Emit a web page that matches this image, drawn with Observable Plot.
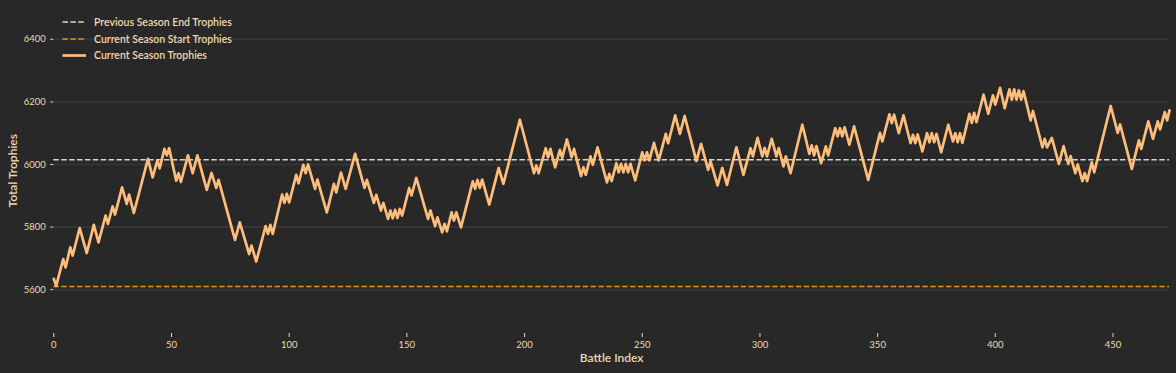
<!DOCTYPE html>
<html>
<head>
<meta charset="utf-8">
<script src="https://cdn.jsdelivr.net/npm/d3@7"></script>
<script src="https://cdn.jsdelivr.net/npm/@observablehq/plot@0.6"></script>
<style>
  html, body { margin: 0; padding: 0; background: #282828; }
  #wrap { position: relative; width: 1176px; height: 373px; overflow: hidden; }
  #legend { position: absolute; left: 0; top: 0; }
</style>
</head>
<body>
<div id="wrap"><div id="chart"></div><svg id="legend" width="300" height="70"></svg></div>
<script>
// Turning points of the trophy path (battle index, trophies)
const battleIdx = [0,1,4,5,7,8,11,14,17,19,22,23,25,26,29,31,32,34,40,42,44,45,47,48,49,52,53,54,57,59,61,65,67,69,70,77,79,83,84,86,90,91,92,93,97,98,99,100,103,104,106,107,108,111,112,116,119,120,122,124,128,132,133,136,137,139,140,142,143,144,145,146,147,148,151,152,154,159,160,162,163,165,166,167,169,170,171,173,178,179,180,181,182,185,189,191,198,204,205,206,209,210,211,213,215,216,218,220,221,224,225,226,228,229,231,235,236,237,239,240,241,242,243,244,245,247,250,251,252,253,255,257,260,261,264,266,268,273,275,278,279,282,284,286,290,293,296,297,299,301,302,303,305,307,308,310,311,313,318,321,322,323,324,326,328,329,332,333,334,335,336,338,340,346,351,352,355,356,357,359,361,364,365,366,367,369,371,372,373,374,375,377,380,382,383,384,385,386,389,390,391,392,395,397,399,400,402,404,406,407,408,409,410,411,412,415,416,420,421,422,424,427,429,431,432,434,435,437,438,439,441,442,449,452,453,458,461,462,465,467,469,470,472,473,474];
const trophies = [5635,5612,5698,5671,5735,5709,5797,5717,5807,5751,5837,5810,5866,5840,5927,5874,5904,5845,6018,5959,6013,5988,6050,6029,6052,5948,5972,5944,6029,5972,6029,5919,5973,5925,5951,5759,5815,5714,5741,5690,5803,5778,5807,5778,5904,5877,5906,5879,5967,5940,5999,5972,6000,5922,5952,5847,5938,5911,5974,5922,6034,5925,5951,5877,5903,5853,5877,5826,5853,5828,5855,5829,5858,5837,5925,5901,5957,5826,5853,5803,5831,5783,5810,5786,5847,5821,5847,5799,5946,5922,5951,5925,5952,5872,5989,5938,6143,5972,5997,5972,6052,6023,6050,5991,6047,6021,6080,6023,6050,5963,5991,5967,6026,5999,6055,5943,5970,5947,6004,5975,6002,5975,6002,5975,6002,5949,6039,6013,6039,6013,6069,6013,6098,6068,6157,6098,6155,6011,6066,5983,6011,5933,5989,5935,6055,5967,6052,6026,6085,6026,6053,6026,6082,6026,6052,5994,6026,5972,6127,6034,6061,6029,6059,6004,6058,6029,6116,6090,6116,6090,6119,6063,6122,5951,6101,6074,6160,6132,6159,6100,6157,6068,6095,6068,6096,6042,6100,6071,6100,6071,6098,6039,6127,6074,6100,6071,6100,6069,6162,6133,6165,6135,6223,6162,6221,6191,6245,6180,6240,6207,6240,6207,6237,6207,6234,6141,6171,6055,6082,6055,6085,6002,6059,6002,6027,5972,6000,5947,5972,5947,6007,5975,6187,6101,6128,5986,6077,6050,6138,6082,6138,6112,6167,6141,6173];

const prevSeasonEnd = 6015;
const seasonStart = 5610;
const xTicks = [0, 50, 100, 150, 200, 250, 300, 350, 400, 450];
const yTicks = [5600, 5800, 6000, 6200, 6400];
const legendLabels = ["Previous Season End Trophies", "Current Season Start Trophies", "Current Season Trophies"];

const colors = { bg: "#282828", grid: "#353535", text: "#ecdab2", prev: "#d6d6d6", start: "#dc9318", line: "#ffbd7b" };
const font = "Lato, 'Open Sans', sans-serif";

const data = battleIdx.map((b, i) => ({ battle: b, trophies: trophies[i] }));

const chart = Plot.plot({
  width: 1176,
  height: 373,
  marginLeft: 53.3,
  marginRight: 7,
  marginTop: 7.5,
  marginBottom: 40,
  style: { background: colors.bg, color: colors.text, fontFamily: font, fontSize: "9.5px" },
  x: { domain: [0, 474] },
  y: { domain: [5460, 6500] },
  marks: [
    Plot.ruleY(yTicks, { stroke: colors.grid, strokeWidth: 2 }),
    Plot.ruleY([prevSeasonEnd], { stroke: colors.prev, strokeWidth: 1.6, strokeDasharray: "5.5,2.4" }),
    Plot.ruleY([seasonStart], { stroke: colors.start, strokeWidth: 1.6, strokeDasharray: "5.5,2.4" }),
    Plot.line(data, { x: "battle", y: "trophies", stroke: colors.line, strokeWidth: 2.7 }),
    Plot.axisX({ ticks: xTicks, tickSize: 4, tickPadding: 4, label: null, stroke: colors.text, tickFormat: d => String(d) }),
    Plot.axisY({ ticks: yTicks, tickSize: 3, tickPadding: 5, label: null, stroke: colors.text, tickFormat: d => String(d) }),
    Plot.text(["Battle Index"], { frameAnchor: "bottom", dy: 25, lineAnchor: "middle", textAnchor: "middle", fontSize: 12, fill: colors.text, fontWeight: 600 }),
    Plot.text(["Total Trophies"], { frameAnchor: "left", dx: -41, rotate: -90, textAnchor: "middle", lineAnchor: "middle", fontSize: 12, fill: colors.text, fontWeight: 600 })
  ]
});
document.getElementById("chart").appendChild(chart);

// Legend
const lg = d3.select("#legend");
const rowsY = [22, 39, 55.5];
const swatches = [
  { stroke: colors.prev, dash: "5.5,2.4", w: 1.6 },
  { stroke: colors.start, dash: "5.5,2.4", w: 1.6 },
  { stroke: colors.line, dash: null, w: 2.7 }
];
legendLabels.forEach((lab, i) => {
  lg.append("line").attr("x1", 62.5).attr("x2", 86).attr("y1", rowsY[i]).attr("y2", rowsY[i])
    .attr("stroke", swatches[i].stroke).attr("stroke-width", swatches[i].w)
    .attr("stroke-dasharray", swatches[i].dash);
  lg.append("text").attr("x", 94).attr("y", rowsY[i]).attr("dy", "0.35em")
    .attr("fill", colors.text).attr("font-family", font).attr("font-size", 10.5)
    .attr("font-weight", 600).text(lab);
});
</script>
</body>
</html>
